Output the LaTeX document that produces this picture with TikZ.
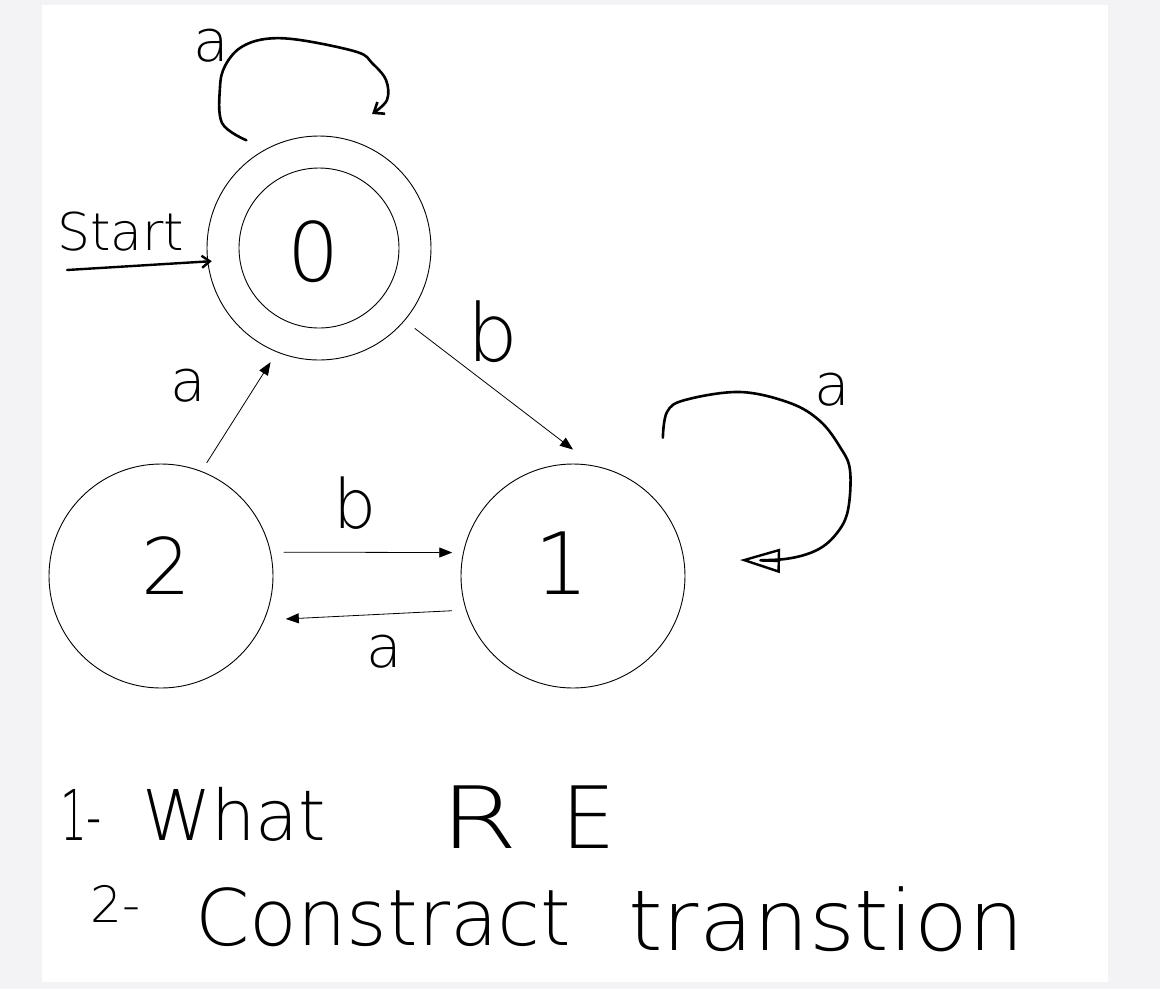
\documentclass[tikz,border=0pt]{standalone}
\usepackage{fontspec}
\newfontfamily\hand{DejaVu Sans ExtraLight}
\usetikzlibrary{arrows.meta,calc}
\definecolor{bgray}{HTML}{F3F3F5}
\begin{document}
\begin{tikzpicture}[x=1pt,y=-1pt,
  state/.style={circle,draw,line width=0.9pt,minimum size=224pt,inner sep=0pt},
  edge/.style={line width=0.8pt,-{Triangle[length=13pt,width=10pt]}},
  hloop/.style={line width=2.6pt,line cap=round,line join=round},
  fs/.style={font=\hand\fontsize{#1}{#1}\selectfont,inner sep=0pt},
]
\useasboundingbox (0,0) rectangle (1160,989);
\fill[bgray] (0,0) rectangle (1160,989);
\fill[white] (42,5) rectangle (1108,982);

% states
\node[state] (q0) at (319,248) {};
\draw[line width=0.9pt] (q0.center) circle[radius=80pt];
\node[state] (q1) at (573,576) {};
\node[state] (q2) at (161,576) {};

\node[fs=82] (t0) at (314,252) {0};
\node[fs=86] (t1) at (562,563) {1};
\node[fs=78] (t2) at (166,566) {2};

% transitions
\draw[edge] ($(q0.center)!125pt!(q0.-40)$) -- ($(q1.north)+(0,-14)$);
\draw[edge] ($(q2.center)!122pt!(q2.68)$) -- ($(q0.center)!124pt!(q0.-113)$);
\draw[edge] ($(q2.center)!125pt!(q2.11)$) -- ($(q1.center)!123pt!(q1.169)$);
\draw[edge] ($(q1.center)!126pt!(q1.196)$) -- ($(q2.center)!132pt!(q2.-19)$);

% start arrow
\coordinate (s0) at (67,270);
\draw[line width=2.4pt,line cap=round,-{Straight Barb[length=8pt,width=12pt]}] (s0) -- ($(q0.center)!108pt!(q0.187)$);

% self loops
\coordinate (l0a) at ($(q0.center)!130pt!(q0.124)$);
\draw[hloop,-{Straight Barb[length=9pt,width=14pt]}] plot[smooth,tension=0.6] coordinates {(l0a) (222,123) (220,87) (225,66) (240,48) (265,39) (300,40) (357,52) (372,63) (386,80) (387,100) (372,114)};
\coordinate (l1a) at ($(q1.center)!165pt!(q1.57)$);
\draw[hloop,-{Triangle[open,length=40pt,width=24pt,line width=2.4pt]}] plot[smooth,tension=0.6] coordinates {(l1a) (667,412) (685,400) (740,392) (790,403) (820,421) (840,447) (850,470) (848,510) (837,533) (817,550) (785,559) (740,560)};

% labels
\node[fs=58] (la0) at (211,46) {a};
\node[fs=52,anchor=base west] (lst) at (57,250) {Start};
\node[fs=80] (lb01) at (493,332) {b};
\node[fs=58] (la20) at (188,386) {a};
\node[fs=58] (la11) at (832,390) {a};
\node[fs=68] (lb21) at (355,503) {b};
\node[fs=58] (la12) at (384,652) {a};

% questions
\node[fs=70,anchor=base west] (q1a) at (60,840) {\scalebox{0.6}[1]{1-}\hspace{40pt}What};
\node[fs=86,anchor=base west] (q1b) at (440,848) {\scalebox{1.3}[1]{R}\hspace{44pt}E};
\node[fs=50,anchor=base west] (q2a) at (90,922) {2-};
\node[fs=78,anchor=base west] (q2b) at (195,945) {Constract};
\node[fs=84,anchor=base west] (q2c) at (628,950) {\scalebox{1.05}[1]{transtion}};
\end{tikzpicture}
\end{document}
